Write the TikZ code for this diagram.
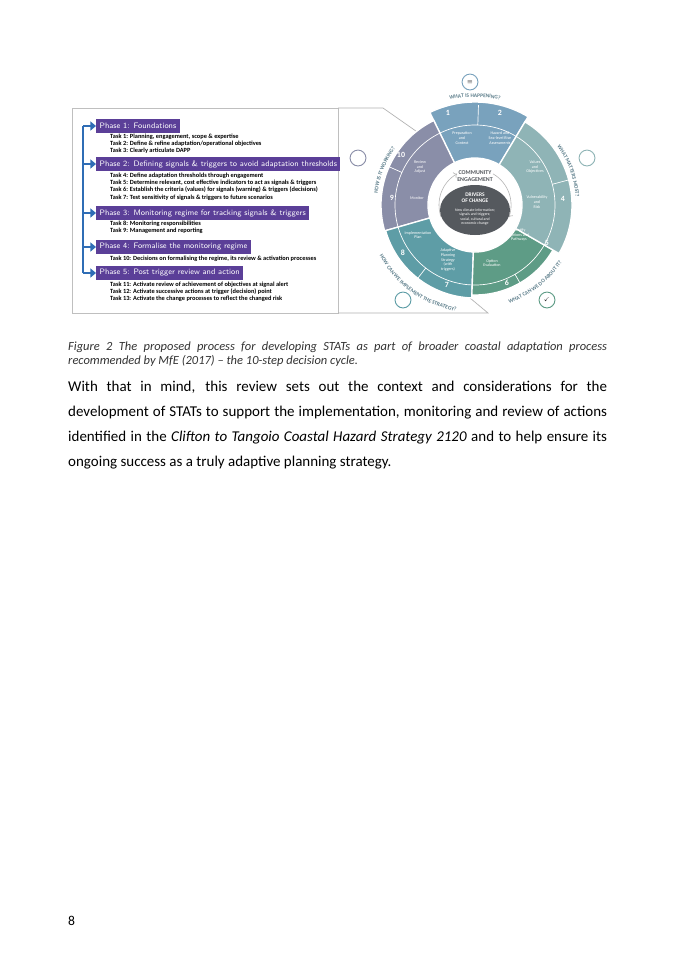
\documentclass[tikz,border=0pt]{standalone}
\usepackage{amssymb}
\usepackage{fontspec}
\setmainfont{Carlito}
\usetikzlibrary{decorations.text,arrows.meta}
\definecolor{phase}{HTML}{5B3F98}
\definecolor{arrowblue}{HTML}{2F6DB5}
\definecolor{segA}{HTML}{79A2BD}
\definecolor{segB}{HTML}{8FB4B6}
\definecolor{segC}{HTML}{5E9C86}
\definecolor{segD}{HTML}{5E9DA6}
\definecolor{segE}{HTML}{8A8EA8}
\definecolor{drivers}{HTML}{55595E}
\definecolor{ringtext}{HTML}{5E7F8C}
\tikzset{
  phasebar/.style={fill=phase,text=white,anchor=west,inner xsep=3pt,inner ysep=1.5pt,font=\fontsize{7}{8}\selectfont\sffamily,minimum height=12pt},
  tasktext/.style={anchor=west,inner sep=0pt,font=\fontsize{5.6}{6}\selectfont\bfseries},
  seglabel/.style={text=white,align=center,font=\fontsize{3.6}{4.2}\selectfont},
  segnum/.style={text=white,font=\fontsize{7}{8}\selectfont\bfseries},
  ringlabel/.style={decorate,decoration={text along path,text align=center,
      text={|\fontsize{4.8}{5}\selectfont\bfseries\color{ringtext}|#1}}},
  icon/.style={draw=segC,line width=0.8pt,circle,minimum size=14pt,inner sep=0pt}
}
\newcommand{\segment}[4]{%
  \fill[#4,draw=white,line width=1.2pt] (#1:47) arc[start angle=#1,end angle=#2,radius=47]
    -- (#2:#3) arc[start angle=#2,end angle=#1,radius=#3] -- cycle;}
\begin{document}
\begin{tikzpicture}[x=0.8815pt,y=-0.8815pt]
\useasboundingbox[fill=white] (0,0) rectangle (675,962);
% left panel
\draw[gray!50,line width=0.6pt] (72,108) rectangle (338,313);
\draw[gray!60,line width=0.6pt] (338,108) -- (383,108) -- (443,150);
\draw[gray!60,line width=0.6pt] (338,313) -- (488,313) -- (470,298);
\node[phasebar] (p1) at (96,126) {Phase 1: Foundations};
\node[phasebar] (p2) at (96,164) {Phase 2: Defining signals \& triggers to avoid adaptation thresholds};
\node[phasebar] (p3) at (96,213) {Phase 3: Monitoring regime for tracking signals \& triggers};
\node[phasebar] (p4) at (96,247) {Phase 4: Formalise the monitoring regime};
\node[phasebar] (p5) at (96,273) {Phase 5: Post trigger review and action};
\coordinate (top) at (83,126);
\coordinate (bot) at (83,273);
\draw[arrowblue,line width=2.5pt] (top) -- (bot);
\foreach \p in {p1,p2,p3,p4,p5}
  \draw[arrowblue,line width=2.5pt,-{Triangle[length=5pt,width=8pt]}] (top |- \p.west) -- (\p.west);
\node[tasktext] (t1) at (110,137) {Task 1: Planning, engagement, scope \& expertise};
\node[tasktext] (t2) at (110,144) {Task 2: Define \& refine adaptation/operational objectives};
\node[tasktext] (t3) at (110,151) {Task 3: Clearly articulate DAPP};
\node[tasktext] (t4) at (110,176) {Task 4: Define adaptation thresholds through engagement};
\node[tasktext] (t5) at (110,183) {Task 5: Determine relevant, cost effective indicators to act as signals \& triggers};
\node[tasktext] (t6) at (110,190) {Task 6: Establish the criteria (values) for signals (warning) \& triggers (decisions)};
\node[tasktext] (t7) at (110,198) {Task 7: Test sensitivity of signals \& triggers to future scenarios};
\node[tasktext] (t8) at (110,224) {Task 8: Monitoring responsibilities};
\node[tasktext] (t9) at (110,231) {Task 9: Management and reporting};
\node[tasktext] (t10) at (110,259) {Task 10: Decisions on formalising the regime, its review \& activation processes};
\node[tasktext] (t11) at (110,285) {Task 11: Activate review of achievement of objectives at signal alert};
\node[tasktext] (t12) at (110,292) {Task 12: Activate successive actions at trigger (decision) point};
\node[tasktext] (t13) at (110,299) {Task 13: Activate the change processes to reflect the changed risk};
% decision cycle
\begin{scope}[shift={(475,205)},x=0.8815pt,y=0.8815pt]
  \segment{59}{116}{103}{segA}
  \segment{116}{196}{94}{segE}
  \segment{196}{268}{93}{segD}
  \segment{268}{330}{90}{segC}
  \segment{330}{419}{97}{segB}
  \draw[white,line width=0.6pt] (0,0) circle[radius=80];
  \foreach \a in {88,156,232,300,15}
    \draw[white,line width=0.6pt] (\a:80) -- (\a:100);
  \draw[gray!60,line width=0.5pt,->] (200:36) arc[start angle=200,end angle=120,radius=36];
  \draw[gray!60,line width=0.5pt,->] (60:36) arc[start angle=60,end angle=-20,radius=36];
  \node[font=\fontsize{5.2}{5.6}\selectfont\bfseries,text=drivers,align=center] (ce) at (0,29) {COMMUNITY\\ENGAGEMENT};
  \fill[drivers] (0,-5) ellipse[x radius=35,y radius=25];
  \node[text=white,align=center,font=\fontsize{4.8}{5.2}\selectfont\bfseries] (dc) at (0,7) {DRIVERS\\OF CHANGE};
  \node[text=white,align=center,font=\fontsize{3.4}{4}\selectfont] (dt) at (0,-12) {New climate information;\\signals and triggers;\\social, cultural and\\economic change};
  \node[seglabel] (l1) at (-13,67) {Preparation\\and\\Context};
  \node[seglabel] (l2) at (25,67) {Hazard and\\Sea-level Rise\\Assessments};
  \node[seglabel] (l3) at (60,38) {Values\\and\\Objectives};
  \node[seglabel] (l4) at (62,3) {Vulnerability\\and\\Risk};
  \node[seglabel] (l5) at (44,-30) {Identify\\Options and\\Pathways};
  \node[seglabel] (l6) at (17,-58) {Option\\Evaluation};
  \node[seglabel] (l7) at (-57,-30) {Implementation\\Plan};
  \node[seglabel] (l8) at (-27,-55) {Adaptive\\Planning\\Strategy\\(with\\triggers)};
  \node[seglabel] (l9) at (-58,7) {Monitor};
  \node[seglabel] (l10) at (-55,38) {Review\\and\\Adjust};
  \node[segnum] (n1) at (-27,92) {1};
  \node[segnum] (n2) at (25,92) {2};
  \node[segnum] (n3) at (88,45) {3};
  \node[segnum] (n4) at (88,6) {4};
  \node[segnum] (n5) at (72,-38) {5};
  \node[segnum] (n6) at (32,-78) {6};
  \node[segnum] (n7) at (-28,-80) {7};
  \node[segnum] (n8) at (-72,-48) {8};
  \node[segnum] (n9) at (-83,7) {9};
  \node[segnum] (n10) at (-74,50) {10};
  \path[ringlabel={WHAT IS HAPPENING?}] (112:108) arc[start angle=112,end angle=68,radius=108];
  \path[ringlabel={WHAT MATTERS MOST?}] (52:101) arc[start angle=52,end angle=-12,radius=101];
  \path[ringlabel={WHAT CAN WE DO ABOUT IT?}] (-84:104) arc[start angle=-84,end angle=-20,radius=104];
  \path[ringlabel={HOW CAN WE IMPLEMENT THE STRATEGY?}] (-164:108) arc[start angle=-164,end angle=-88,radius=108];
  \path[ringlabel={HOW IS IT WORKING?}] (190:98) arc[start angle=190,end angle=128,radius=98];
  \node[icon,draw=segA] (i1) at (-5,123) {\tiny$\equiv$};
  \node[icon,draw=segB] (i2) at (112,47) {};
  \node[icon] (i3) at (72,-95) {\tiny$\checkmark$};
  \node[icon,draw=segD] (i4) at (-72,-95) {};
  \node[icon,draw=segE] (i5) at (-117,47) {};
\end{scope}
% caption and body
\node[anchor=north west,inner sep=0pt,text width=475pt,align=justify,
  font=\fontsize{11}{12.3}\selectfont\itshape,text=black!80] (cap) at (68,342)
  {\hyphenpenalty=10000 Figure 2 The proposed process for developing STATs as part of broader coastal adaptation process recommended by MfE (2017) -- the 10-step decision cycle.\par};
\node[anchor=north west,inner sep=0pt,text width=475pt,align=justify,
  font=\fontsize{13.2}{22}\selectfont] (body) at (68,381)
  {\hyphenpenalty=10000 With that in mind, this review sets out the context and considerations for the\linebreak{} development of STATs to support the implementation, monitoring and review of actions\linebreak{} identified in the \textit{Clifton to Tangoio Coastal Hazard Strategy 2120} and to help ensure its\linebreak{} ongoing success as a truly adaptive planning strategy.\par};
\node[anchor=west,inner sep=0pt,font=\fontsize{12}{13}\selectfont] (page) at (68,921) {8};
\end{tikzpicture}
\end{document}
